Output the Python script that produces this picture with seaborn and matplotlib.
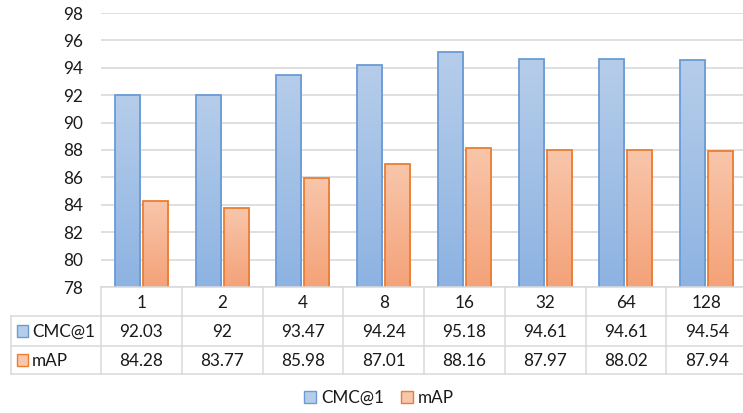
import numpy as np
import pandas as pd
import matplotlib
matplotlib.use("Agg")
import matplotlib.pyplot as plt
import matplotlib.colors as mcolors
from matplotlib.patches import Rectangle, Patch
from matplotlib.lines import Line2D
from matplotlib.transforms import Affine2D, blended_transform_factory
import seaborn as sns

# Batch sizes and the two retrieval metrics
batch_sizes = ["1", "2", "4", "8", "16", "32", "64", "128"]
cmc1 = [92.03, 92, 93.47, 94.24, 95.18, 94.61, 94.61, 94.54]
mAP = [84.28, 83.77, 85.98, 87.01, 88.16, 87.97, 88.02, 87.94]
series_names = ["CMC@1", "mAP"]

# gradient (bottom, top) and outline colours per series
grad_colors = {
    "CMC@1": ("#8db3e2", "#b6cdea"),
    "mAP": ("#f4a278", "#f8c6ab"),
}
edge_colors = {"CMC@1": "#6a9bd6", "mAP": "#ed7d31"}
grid_color = "#d9d9d9"
text_color = "#1a1a1a"

sns.set_theme(style="white")
plt.rcParams["font.family"] = ["Lato", "DejaVu Sans"]
FS = 12.3

W, H = 743, 413
fig = plt.figure(figsize=(W / 100, H / 100), dpi=100)
ax = fig.add_axes([101 / W, 1 - 287 / H, 646 / W, 274 / H])

df = pd.DataFrame({
    "batch": batch_sizes * 2,
    "metric": ["CMC@1"] * len(batch_sizes) + ["mAP"] * len(batch_sizes),
    "value": cmc1 + mAP,
})

sns.barplot(data=df, x="batch", y="value", hue="metric", order=batch_sizes,
            hue_order=series_names, palette=[grad_colors[s][0] for s in series_names],
            width=0.693, gap=0.106, saturation=1, legend=False, ax=ax)

ymin, ymax = 78, 98
ax.set_ylim(ymin, ymax)
ax.set_xlim(-0.5, len(batch_sizes) - 0.5)

# vertical gradient fill clipped to each bar
for name, cont in zip(series_names, ax.containers):
    bottom, top = (np.array(mcolors.to_rgba(c)) for c in grad_colors[name])
    t = np.linspace(0, 1, 256)[:, None]
    grad = (bottom[None, :] * (1 - t) + top[None, :] * t)[:, None, :]
    for bar in cont:
        x0, w, h = bar.get_x(), bar.get_width(), bar.get_height()
        bar.set_facecolor("none")
        bar.set_edgecolor(edge_colors[name])
        bar.set_linewidth(1.3)
        bar.set_zorder(2)
        im = ax.imshow(grad, extent=[x0, x0 + w, ymin, h], origin="lower",
                       aspect="auto", zorder=1.5, interpolation="bilinear")
        im.set_clip_path(bar)

ax.set_ylim(ymin, ymax)
ax.set_xlim(-0.5, len(batch_sizes) - 0.5)
ax.set_yticks(np.arange(ymin, ymax + 1, 2))
ax.set_xticks([])
ax.set_xlabel("")
ax.set_ylabel("")
ax.grid(axis="y", color=grid_color, linewidth=1.2)
ax.set_axisbelow(True)
for s in ax.spines.values():
    s.set_visible(False)
ax.tick_params(axis="y", length=0, pad=13, labelsize=FS, labelcolor=text_color)

# data table underneath the plot
pix = Affine2D().scale(1 / W, -1 / H).translate(0, 1) + fig.transFigure
colx = blended_transform_factory(ax.transData, pix)

row_top, row1, row2, row3 = 287, 316, 346, 374
left_edge = 11
lw = 1.1

def hline(x0, x1, y, tr):
    fig.add_artist(Line2D([x0, x1], [y, y], transform=tr, color=grid_color, lw=lw))

def vline(x, y0, y1, tr):
    fig.add_artist(Line2D([x, x], [y0, y1], transform=tr, color=grid_color, lw=lw))

n = len(batch_sizes)
hline(-0.5, n - 0.5, row_top, colx)
for y in (row1, row2, row3):
    hline(left_edge, 101, y, pix)
    hline(-0.5, n - 0.5, y, colx)
for i in range(n + 1):
    vline(i - 0.5, row_top, row3, colx)
vline(left_edge, row1, row3, pix)

for i, lab in enumerate(batch_sizes):
    fig.text(i, (row_top + row1) / 2 + 1, lab, transform=colx, ha="center",
             va="center", fontsize=FS, color=text_color)
    fig.text(i, (row1 + row2) / 2 + 1, f"{cmc1[i]:g}", transform=colx,
             ha="center", va="center", fontsize=FS, color=text_color)
    fig.text(i, (row2 + row3) / 2 + 1, f"{mAP[i]:g}", transform=colx,
             ha="center", va="center", fontsize=FS, color=text_color)

for name, (ya, yb) in zip(series_names, [(row1, row2), (row2, row3)]):
    yc = (ya + yb) / 2
    fig.add_artist(Rectangle((17, yc - 6), 11, 12, transform=pix,
                             facecolor=grad_colors[name][1],
                             edgecolor=edge_colors[name], lw=1.0))
    fig.text(32, yc + 1, name, transform=pix, ha="left", va="center",
             fontsize=FS, color=text_color)

# legend below the table
handles = [Patch(facecolor=grad_colors[s][1], edgecolor=edge_colors[s], lw=1.0)
           for s in series_names]
fig.legend(handles, series_names, loc="center", bbox_to_anchor=(379 / W, 1 - 398 / H),
           ncol=2, frameon=False, fontsize=FS, handlelength=0.7, handleheight=0.7,
           handletextpad=0.3, columnspacing=1.0, labelcolor=text_color)

fig.savefig("out.png", dpi=100)
